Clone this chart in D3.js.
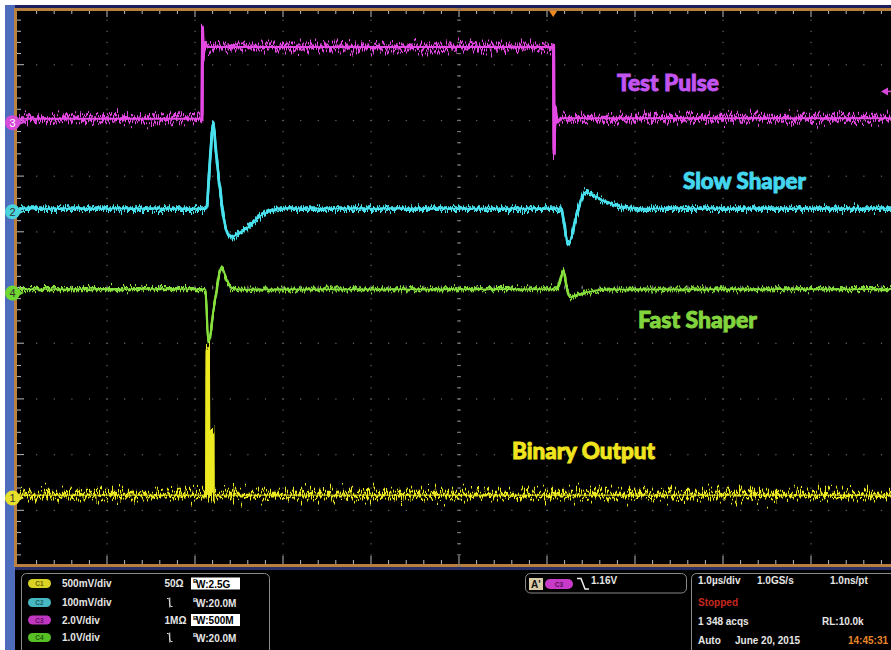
<!DOCTYPE html>
<html><head><meta charset="utf-8">
<script src="https://cdn.jsdelivr.net/npm/d3@7"></script>
<style>body{margin:0;background:#fff;} svg{display:block}</style>
</head><body><svg id="c" width="891" height="650"></svg>
<script>
// ---------- DATA (time in µs, value in divisions) ----------
const ch3Time = [0, 2.080, 2.086, 2.092, 2.105, 2.14, 6.075, 6.080, 6.092, 6.11, 6.15, 10];
const ch3Val  = [3.03, 3.03, 4.70, 4.15, 4.36, 4.32, 4.32, 2.40, 3.20, 2.97, 3.04, 3.04];

const ch2Time = [0, 2.131, 2.159, 2.208, 2.239, 2.315, 2.352, 2.417, 2.477, 2.568, 2.776, 2.966, 6.156, 6.242, 6.356, 6.432, 6.640, 6.830, 7.114, 10];
const ch2Val  = [1.416, 1.416, 2.007, 2.934, 2.437, 1.380, 1.057, 0.901, 0.950, 1.039, 1.321, 1.416, 1.416, 0.794, 1.416, 1.708, 1.559, 1.452, 1.416, 1.416];

const ch4Time = [0, 2.119, 2.151, 2.227, 2.303, 2.352, 2.409, 2.511, 6.114, 6.148, 6.185, 6.222, 6.261, 6.352, 6.489, 6.716, 10];
const ch4Val  = [-0.03, -0.03, -0.982, -0.233, 0.364, 0.161, 0.0, -0.036, -0.03, 0.125, 0.314, 0.03, -0.174, -0.125, -0.072, -0.036, -0.03];

const ch1Time = [0, 2.130, 2.136, 2.155, 2.160, 2.180, 2.183, 2.205, 2.208, 10];
const ch1Val  = [-3.728, -3.728, -1.075, -1.10, -3.728, -3.728, -2.616, -2.616, -3.728, -3.728];

const channelNames   = ["1", "2", "3", "4"];
const channelOffsets = [-3.78, 1.36, 2.96, -0.10];
const traceLabels    = ["Test Pulse", "Slow Shaper", "Fast Shaper", "Binary Output"];

const chScales   = ["500mV/div", "100mV/div", "2.0V/div", "1.0V/div"];
const chCoupling = ["50Ω", "∿", "1MΩ", "∿"];
const chBandwidth= ["2.5G", "20.0M", "500M", "20.0M"];
const chBwBoxed  = [true, false, true, false];
const triggerLevel = "1.16V";
const triggerTime  = 6.07;
const triggerDiv   = 3.52;
const acqInfo = ["1.0µs/div", "1.0GS/s", "1.0ns/pt", "Stopped", "1 348 acqs", "RL:10.0k", "Auto", "June 20, 2015", "14:45:31"];

// ---------- SETUP ----------
const svg = d3.select("#c");
const x = d3.scaleLinear().domain([0, 10]).range([19, 899]);
const y = d3.scaleLinear().domain([-5, 5]).range([566, 9]);

const defs = svg.append("defs");
function noiseFilter(id, scale, seed, fx) {
  const f = defs.append("filter").attr("id", id).attr("filterUnits", "userSpaceOnUse")
    .attr("x", 0).attr("y", 0).attr("width", 891).attr("height", 570);
  f.append("feTurbulence").attr("type", "fractalNoise").attr("baseFrequency", fx + " 0.03")
    .attr("numOctaves", 3).attr("seed", seed).attr("result", "t");
  f.append("feColorMatrix").attr("in", "t").attr("type", "matrix")
    .attr("values", "0 0 0 0 0.5  0 1 0 0 0  0 0 0 0 0  0 0 0 0 1").attr("result", "m");
  f.append("feDisplacementMap").attr("in", "SourceGraphic").attr("in2", "m")
    .attr("scale", scale).attr("xChannelSelector", "R").attr("yChannelSelector", "G");
}
noiseFilter("n3a", 26, 3, 0.7);  noiseFilter("n3b", 20, 13, 0.8);
noiseFilter("n2a", 15, 7, 0.7);  noiseFilter("n2b", 11, 17, 0.8);
noiseFilter("n4a", 13, 11, 0.7); noiseFilter("n4b", 9, 21, 0.8);
noiseFilter("n1a", 36, 5, 0.7);  noiseFilter("n1b", 26, 25, 0.8);

// background
svg.append("rect").attr("width", 891).attr("height", 650).attr("fill", "#fff");
svg.append("rect").attr("x", 5).attr("y", 5).attr("width", 886).attr("height", 645).attr("fill", "#000");
svg.append("rect").attr("x", 5).attr("y", 5).attr("width", 10).attr("height", 645).attr("fill", "#4e6cbc");
svg.append("rect").attr("x", 15).attr("y", 5).attr("width", 876).attr("height", 3).attr("fill", "#1c1f5a");
svg.append("rect").attr("x", 15).attr("y", 567).attr("width", 876).attr("height", 3).attr("fill", "#2a2d66");
svg.append("rect").attr("x", 15).attr("y", 8).attr("width", 876).attr("height", 3).attr("fill", "#b98040");
svg.append("rect").attr("x", 15).attr("y", 564).attr("width", 876).attr("height", 3).attr("fill", "#b98040");
svg.append("rect").attr("x", 14).attr("y", 8).attr("width", 3).attr("height", 559).attr("fill", "#b98040");

// ---------- GRATICULE ----------
const g = svg.append("g");
const majorX = d3.range(1, 10);
const majorY = d3.range(-4, 5);
const minorX = d3.range(0, 10.001, 0.2);
const minorY = d3.range(-5, 5.001, 0.2);
majorX.forEach(t => {
  g.selectAll(null).data(minorY.filter(v => v > -5 && v < 5)).enter().append("rect")
    .attr("x", x(t) - 0.5).attr("y", d => y(d) - 0.5).attr("width", 1.2).attr("height", 1.2)
    .attr("fill", t === 5 ? "#9a9a9a" : "#6a6a6a");
});
majorY.forEach(v => {
  g.selectAll(null).data(minorX.filter(t => t > 0 && t < 10)).enter().append("rect")
    .attr("x", d => x(d) - 0.5).attr("y", y(v) - 0.5).attr("width", 1.2).attr("height", 1.2)
    .attr("fill", v === 0 ? "#9a9a9a" : "#6a6a6a");
});
g.selectAll(null).data(minorY).enter().append("line")
  .attr("x1", x(5) - 2).attr("x2", x(5) + 2).attr("y1", d => y(d)).attr("y2", d => y(d))
  .attr("stroke", "#777").attr("stroke-width", 1);
g.selectAll(null).data(minorX).enter().append("line")
  .attr("x1", d => x(d)).attr("x2", d => x(d)).attr("y1", y(0) - 2).attr("y2", y(0) + 2)
  .attr("stroke", "#777").attr("stroke-width", 1);
const isMaj = d => Math.abs(d - Math.round(d)) < 1e-6;
g.selectAll(null).data(minorX.filter(t => t > 0)).enter().append("line")
  .attr("x1", d => x(d)).attr("x2", d => x(d)).attr("y1", 11).attr("y2", d => isMaj(d) ? 17 : 14)
  .attr("stroke", "#bbb").attr("stroke-width", 1);
g.selectAll(null).data(minorX.filter(t => t > 0)).enter().append("line")
  .attr("x1", d => x(d)).attr("x2", d => x(d)).attr("y1", 564).attr("y2", d => isMaj(d) ? 556 : 560)
  .attr("stroke", "#bbb").attr("stroke-width", 1);
g.selectAll(null).data(minorY.filter(v => v > -5 && v < 5)).enter().append("line")
  .attr("x1", 17).attr("x2", d => isMaj(d) ? 24 : 21).attr("y1", d => y(d)).attr("y2", d => y(d))
  .attr("stroke", "#bbb").attr("stroke-width", 1);

// ---------- TRACES ----------
const plot = svg.append("g");
plot.append("clipPath").attr("id", "clip").append("rect").attr("x", 17).attr("y", 11).attr("width", 874).attr("height", 553);
const traces = [
  {t: ch3Time, v: ch3Val, color: "#e44ae4", f: "n3", w: 3.0, core: 2.0, curve: d3.curveLinear},
  {t: ch2Time, v: ch2Val, color: "#48e2ee", f: "n2", w: 2.6, core: 1.6, curve: d3.curveMonotoneX},
  {t: ch4Time, v: ch4Val, color: "#86e03c", f: "n4", w: 2.2, core: 1.4, curve: d3.curveMonotoneX},
  {t: ch1Time, v: ch1Val, color: "#eeea22", f: "n1", w: 2.6, core: 1.0, curve: d3.curveLinear}
];
const tg = plot.append("g").attr("clip-path", "url(#clip)");
traces.forEach(tr => {
  const pts = tr.t.map((t, i) => [t, tr.v[i]]);
  const line = d3.line().x(d => x(d[0])).y(d => y(d[1])).curve(tr.curve);
  tg.append("path").attr("d", line(pts)).attr("fill", "none")
    .attr("stroke", tr.color).attr("stroke-width", tr.core);
  ["a", "b"].forEach(k => {
    tg.append("path").attr("d", line(pts)).attr("fill", "none")
      .attr("stroke", tr.color).attr("stroke-width", tr.w).attr("filter", "url(#" + tr.f + k + ")");
  });
});

// ---------- TRACE LABELS ----------
const labelPos = [[6.795, 3.674, 102, "#c254f0"], [7.545, 1.918, 123, "#44d6ee"], [7.034, -0.573, 119, "#82d43e"], [5.602, -2.921, 143, "#f0e41e"]];
traceLabels.forEach((s, i) => {
  const p = labelPos[i];
  svg.append("text").attr("x", x(p[0])).attr("y", y(p[1]) + 8.5)
    .attr("font-family", "Lato, 'DejaVu Sans', sans-serif").attr("font-weight", 900)
    .attr("font-size", 23).attr("fill", p[3]).attr("stroke", p[3]).attr("stroke-width", 0.9)
    .attr("textLength", p[2]).attr("lengthAdjust", "spacingAndGlyphs").text(s);
});

// ---------- CHANNEL MARKERS ----------
const chColors = ["#e6e02a", "#4cd4dc", "#d84ad8", "#70d830"];
channelNames.forEach((n, i) => {
  const cy = y(channelOffsets[i]);
  svg.append("path").attr("d", `M18,${cy - 3} L24,${cy} L18,${cy + 3} Z`).attr("fill", chColors[i]);
  svg.append("circle").attr("cx", 12.5).attr("cy", cy).attr("r", 7.5).attr("fill", chColors[i]);
  svg.append("text").attr("x", 12.5).attr("y", cy + 4).attr("text-anchor", "middle")
    .attr("font-family", "'Liberation Sans', Arial, sans-serif").attr("font-size", 11)
    .attr("fill", i === 2 ? "#fff" : "#333").text(n);
});

svg.append("path").attr("d", `M${x(triggerTime) - 4},11 L${x(triggerTime) + 4},11 L${x(triggerTime)},17 Z`).attr("fill", "#f08a20");
const ty = y(triggerDiv);
svg.append("path").attr("d", `M881,${ty} L888,${ty - 4} L888,${ty + 4} Z`).attr("fill", "#d848d8");
svg.append("line").attr("x1", 886).attr("x2", 891).attr("y1", ty).attr("y2", ty).attr("stroke", "#d848d8").attr("stroke-width", 1.5);

// ---------- BOTTOM PANEL ----------
const font = "'Liberation Sans', Arial, sans-serif";
function txt(xx, yy, s, col, anchor) {
  return svg.append("text").attr("x", xx).attr("y", yy).attr("font-family", font).attr("font-weight", "bold")
    .attr("font-size", 10).attr("fill", col || "#e6e6e6").attr("text-anchor", anchor || "start").text(s);
}
svg.append("rect").attr("x", 21.5).attr("y", 573.5).attr("width", 248).attr("height", 85).attr("rx", 5)
  .attr("fill", "#000").attr("stroke", "#8a8a8a").attr("stroke-width", 1);
const rowY = [583.5, 602.5, 620, 637.5];
const badgeCols = ["#d9d224", "#46b8c2", "#c036c0", "#56c024"];
const badgeTxt = ["#6a6410", "#1c5c62", "#5a105a", "#245c10"];
chScales.forEach((s, i) => {
  const cy = rowY[i];
  svg.append("rect").attr("x", 28).attr("y", cy - 4.5).attr("width", 23).attr("height", 9).attr("rx", 4.5).attr("fill", badgeCols[i]);
  svg.append("text").attr("x", 39.5).attr("y", cy + 2.5).attr("text-anchor", "middle").attr("font-family", font)
    .attr("font-size", 6.5).attr("font-weight", "bold").attr("fill", badgeTxt[i]).text("C" + (i + 1));
  txt(62, cy + 3.5, s);
  if (chCoupling[i] === "∿") {
    svg.append("path").attr("d", `M167,${cy - 4} L168.5,${cy - 4} C170,${cy - 4} 169,${cy + 4} 171,${cy + 4} L172.5,${cy + 4} M169.8,${cy - 5} L169.8,${cy + 5}`)
      .attr("fill", "none").attr("stroke", "#ddd").attr("stroke-width", 1);
  } else {
    txt(164.5, cy + 3.5, chCoupling[i]);
  }
  const boxed = chBwBoxed[i];
  if (boxed) svg.append("rect").attr("x", 191).attr("y", cy - 6).attr("width", 49).attr("height", 12).attr("fill", "#fff");
  const c = boxed ? "#000" : "#e6e6e6";
  svg.append("text").attr("x", 193).attr("y", cy - 0.5).attr("font-family", font).attr("font-size", 6).attr("font-weight", "bold").attr("fill", c).text("B");
  txt(196, cy + 4, "W:" + chBandwidth[i], c);
});
svg.append("rect").attr("x", 525.5).attr("y", 573.5).attr("width", 161).attr("height", 19.5).attr("rx", 5)
  .attr("fill", "#000").attr("stroke", "#8a8a8a").attr("stroke-width", 1);
svg.append("rect").attr("x", 529).attr("y", 578).attr("width", 14).attr("height", 12).attr("fill", "#d9cda8");
svg.append("text").attr("x", 531).attr("y", 587.5).attr("font-family", font).attr("font-size", 10).attr("font-weight", "bold").attr("fill", "#111").text("A'");
svg.append("rect").attr("x", 545).attr("y", 579).attr("width", 28).attr("height", 10).attr("rx", 5).attr("fill", "#c83ac8");
svg.append("text").attr("x", 559).attr("y", 586.5).attr("text-anchor", "middle").attr("font-family", font)
  .attr("font-size", 6.5).attr("font-weight", "bold").attr("fill", "#5a105a").text("C3");
svg.append("path").attr("d", "M577,578.5 L581,578.5 L585,589 L589,589").attr("fill", "none").attr("stroke", "#eee").attr("stroke-width", 1.5);
txt(591, 584, triggerLevel);
svg.append("rect").attr("x", 691.5).attr("y", 573.5).attr("width", 220).attr("height", 85).attr("rx", 5)
  .attr("fill", "#000").attr("stroke", "#8a8a8a").attr("stroke-width", 1);
txt(698, 584, acqInfo[0]);
txt(757, 584, acqInfo[1]);
txt(830, 584, acqInfo[2]);
txt(698, 605.5, acqInfo[3], "#c8281e");
txt(698, 624.5, acqInfo[4]);
txt(822, 624.5, acqInfo[5]);
txt(698, 643.5, acqInfo[6]);
txt(735, 643.5, acqInfo[7]);
txt(888, 643.5, acqInfo[8], "#e8862a", "end");
</script>
</body></html>
